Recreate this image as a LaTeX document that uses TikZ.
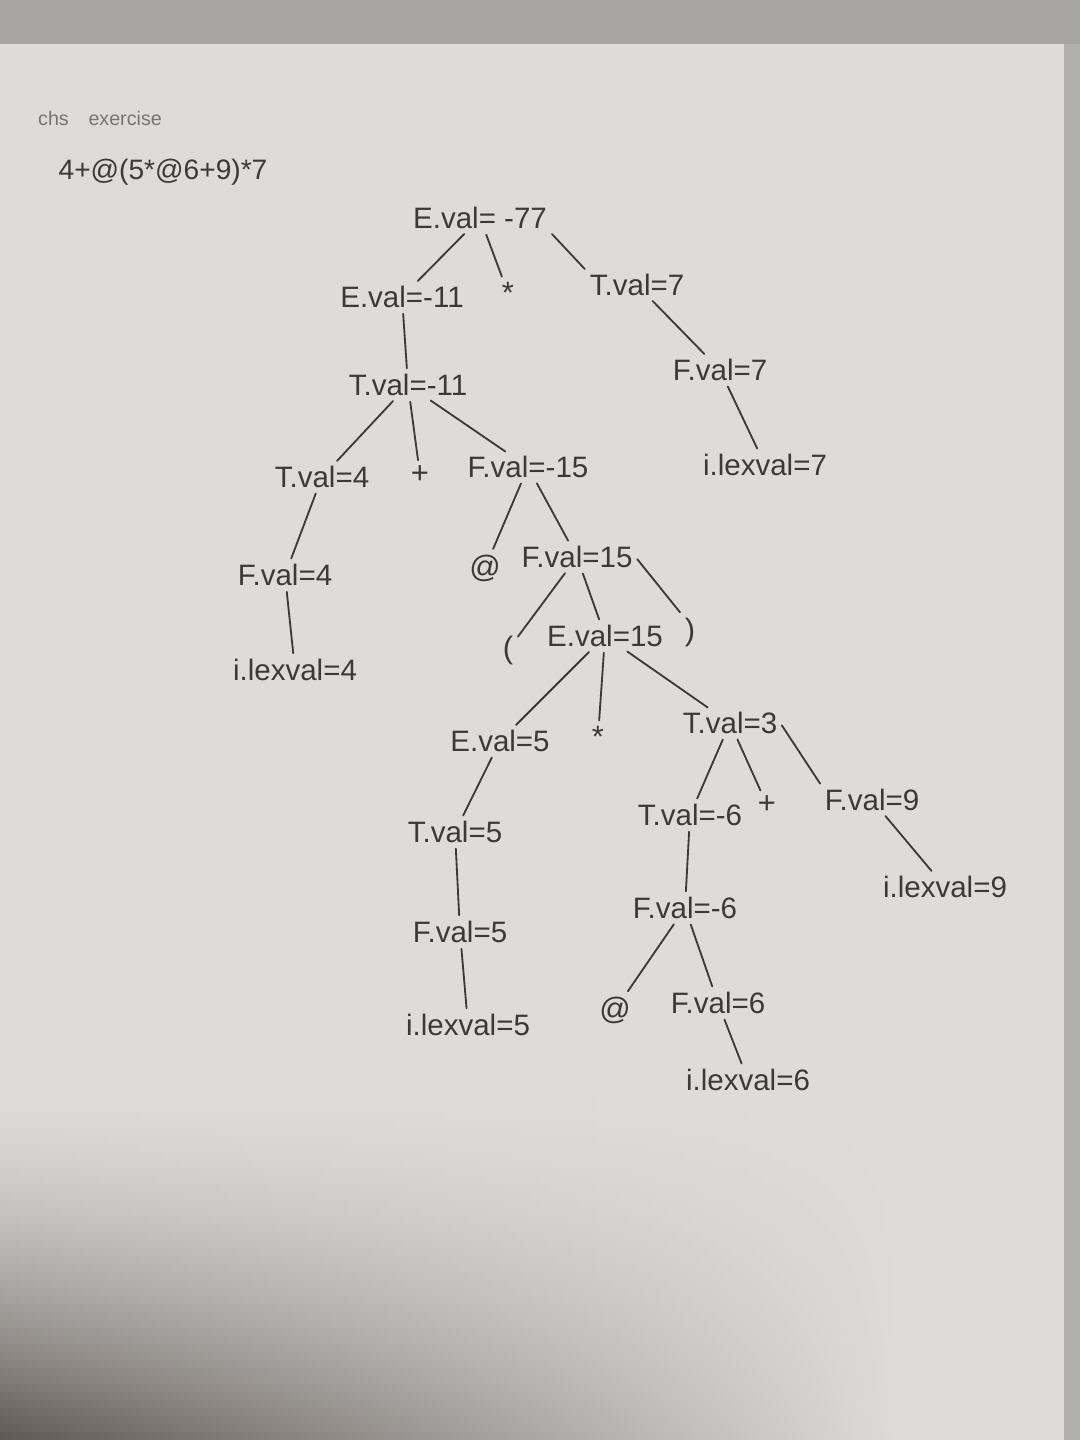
\documentclass[tikz,border=0pt]{standalone}
\usepackage{fontspec}
\setmainfont{Liberation Sans}
\definecolor{paper}{HTML}{DEDCDA}
\definecolor{desk}{HTML}{A6A5A3}
\definecolor{ink}{HTML}{3A3A3A}
\definecolor{shadow}{HTML}{4A433E}
\tikzset{
  lbl/.style={font=\fontsize{21}{24}\selectfont, text=ink, inner sep=2pt},
  sym/.style={font=\fontsize{22}{24}\selectfont, text=ink, inner sep=2pt},
  edge/.style={draw=ink, line width=1.3pt, line cap=round, shorten <=2pt, shorten >=2pt}
}
\begin{document}
\begin{tikzpicture}[x=0.025cm, y=-0.025cm]
\useasboundingbox (0,0) rectangle (1080,1440);
% background and paper
\fill[desk] (0,0) rectangle (1080,1440);
\fill[paper] (0,44) rectangle (1064,1440);
\fill[desk!80!paper] (1064,44) rectangle (1080,1440);
% shadow on the lower left of the sheet
\foreach \i in {0,...,44} {
  \pgfmathtruncatemacro\k{((\i+1)/45)^1.6*85}
  \pgfmathtruncatemacro\m{\k*0.55}
  \shade[left color=shadow!\k!paper, middle color=shadow!\m!paper, right color=paper]
    (0,{1080+\i*8}) rectangle (900,{1080+\i*8+8.6});
}

% header
\node[font=\fontsize{14}{16}\selectfont, text=ink!70] (hdr) at (100,118) {chs\quad exercise};
\node[font=\fontsize{20}{22}\selectfont, text=ink] (expr) at (163,172) {4+@(5*@6+9)*7};

% nodes
\node[lbl] (E0) at (480,218) {E.val= -77};
\node[lbl] (E1) at (402,297) {E.val=-11};
\node[sym] (s1) at (508,293) {*};
\node[lbl] (T1) at (637,285) {T.val=7};
\node[lbl] (F7) at (720,370) {F.val=7};
\node[lbl] (i7) at (765,465) {i.lexval=7};
\node[lbl] (T2) at (408,385) {T.val=-11};
\node[lbl] (T4) at (322,477) {T.val=4};
\node[sym] (p1) at (420,475) {+};
\node[lbl] (Fm15) at (528,467) {F.val=-15};
\node[lbl] (F4) at (285,575) {F.val=4};
\node[lbl] (i4) at (295,670) {i.lexval=4};
\node[sym] (a1) at (485,568) {@};
\node[lbl] (F15) at (577,557) {F.val=15};
\node[sym] (lp) at (508,650) {(};
\node[lbl] (E15) at (605,636) {E.val=15};
\node[sym] (rp) at (690,632) {)};
\node[lbl] (E5) at (500,741) {E.val=5};
\node[sym] (s2) at (598,737) {*};
\node[lbl] (T3) at (730,723) {T.val=3};
\node[lbl] (T5) at (455,832) {T.val=5};
\node[lbl] (Tm6) at (690,815) {T.val=-6};
\node[sym] (p2) at (767,805) {+};
\node[lbl] (F9) at (872,800) {F.val=9};
\node[lbl] (F5) at (460,932) {F.val=5};
\node[lbl] (Fm6) at (685,908) {F.val=-6};
\node[lbl] (i9) at (945,887) {i.lexval=9};
\node[lbl] (i5) at (468,1025) {i.lexval=5};
\node[sym] (a2) at (615,1010) {@};
\node[lbl] (F6) at (718,1003) {F.val=6};
\node[lbl] (i6) at (748,1080) {i.lexval=6};

% edges
\draw[edge] (E0) -- (E1);
\draw[edge] (E0) -- (s1);
\draw[edge] (E0.south east) -- (T1.north west);
\draw[edge] (E1) -- (T2);
\draw[edge] (T1) -- (F7);
\draw[edge] (F7) -- (i7);
\draw[edge] (T2) -- (T4);
\draw[edge] (T2) -- (p1);
\draw[edge] (T2) -- (Fm15);
\draw[edge] (T4) -- (F4);
\draw[edge] (F4) -- (i4);
\draw[edge] (Fm15) -- (a1);
\draw[edge] (Fm15) -- (F15);
\draw[edge] (F15) -- (lp);
\draw[edge] (F15) -- (E15);
\draw[edge] (F15.east) -- (rp.north west);
\draw[edge] (E15) -- (E5);
\draw[edge] (E15) -- (s2);
\draw[edge] (E15) -- (T3);
\draw[edge] (E5) -- (T5);
\draw[edge] (T3) -- (Tm6);
\draw[edge] (T3) -- (p2);
\draw[edge] (T3.east) -- (F9.north west);
\draw[edge] (T5) -- (F5);
\draw[edge] (F9) -- (i9);
\draw[edge] (F5) -- (i5);
\draw[edge] (Tm6) -- (Fm6);
\draw[edge] (Fm6) -- (a2);
\draw[edge] (Fm6) -- (F6);
\draw[edge] (F6) -- (i6);
\end{tikzpicture}
\end{document}
